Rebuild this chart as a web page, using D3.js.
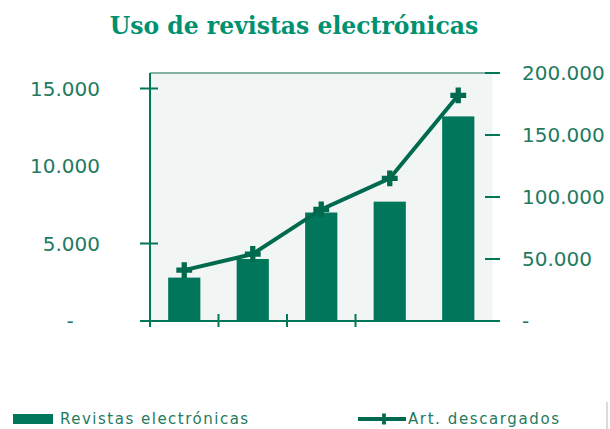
<!DOCTYPE html>
<html>
<head>
<meta charset="utf-8">
<script src="https://cdn.jsdelivr.net/npm/d3@7"></script>
<style>
    body { margin: 0; background: #ffffff; }
    #chart { width: 610px; height: 429px; }
</style>
</head>
<body>
<div id="chart"></div>
<script>
// Values (estimates)
const periods = ["P1", "P2", "P3", "P4", "P5"]
const revistas = [2800, 4000, 7000, 7700, 13200]
const articulos = [41000, 54000, 90000, 115000, 182000]
const leftTicks = [0, 5000, 10000, 15000]
const rightTicks = [0, 50000, 100000, 150000, 200000]

function drawChart() {
    const width = 610
    const height = 429
    const green = "#00775a"
    const lineGreen = "#006a4f"
    const textGreen = "#1f7a5f"

    const plot = { left: 150, right: 492.5, top: 73, bottom: 321 }

    const svg = d3.select("#chart").append("svg")
        .attr("width", width)
        .attr("height", height)

    const x = d3.scaleBand()
        .domain(periods)
        .range([plot.left, plot.right])
        .paddingInner(0.53)
        .paddingOuter(0.265)

    const yLeft = d3.scaleLinear().domain([0, 16000]).range([plot.bottom, plot.top])
    const yRight = d3.scaleLinear().domain([0, 200000]).range([plot.bottom, plot.top])

    const fmt = v => v === 0 ? "-" : d3.format(",")(v).replace(/,/g, ".")

    // title
    svg.append("text")
        .attr("x", 294)
        .attr("y", 34)
        .attr("text-anchor", "middle")
        .style("font-family", "'DejaVu Serif'")
        .style("font-weight", "bold")
        .style("font-size", "23.5px")
        .style("fill", "#009170")
        .text("Uso de revistas electrónicas")

    // plot background
    svg.append("rect")
        .attr("x", plot.left)
        .attr("y", plot.top)
        .attr("width", plot.right - plot.left)
        .attr("height", plot.bottom - plot.top)
        .attr("fill", "#f1f5f3")

    // top border
    svg.append("line")
        .attr("x1", plot.left).attr("x2", plot.right)
        .attr("y1", plot.top).attr("y2", plot.top)
        .attr("stroke", "#5c9a86")
        .attr("stroke-width", 1.5)

    // bars
    svg.selectAll(".bar")
        .data(periods)
        .join("rect")
            .attr("class", "bar")
            .attr("x", d => x(d))
            .attr("width", x.bandwidth())
            .attr("y", (d, i) => yLeft(revistas[i]))
            .attr("height", (d, i) => plot.bottom - yLeft(revistas[i]))
            .attr("fill", green)

    // left axis
    const leftAxis = svg.append("g")
    leftAxis.append("line")
        .attr("x1", plot.left).attr("x2", plot.left)
        .attr("y1", plot.top).attr("y2", plot.bottom + 6)
        .attr("stroke", green).attr("stroke-width", 2)
    leftAxis.selectAll(".ltick")
        .data(leftTicks.filter(d => d !== 10000))
        .join("line")
            .attr("x1", plot.left - 10).attr("x2", plot.left + 8)
            .attr("y1", d => yLeft(d)).attr("y2", d => yLeft(d))
            .attr("stroke", green).attr("stroke-width", 2)
    leftAxis.selectAll(".llabel")
        .data(leftTicks)
        .join("text")
            .attr("x", d => d === 0 ? 70 : 100)
            .attr("y", d => yLeft(d))
            .attr("dy", "0.35em")
            .attr("text-anchor", d => d === 0 ? "middle" : "end")
            .style("font-family", "'DejaVu Sans'")
            .style("font-size", "20px")
            .style("fill", textGreen)
            .text(fmt)

    // bottom axis
    svg.append("line")
        .attr("x1", 140).attr("x2", 500)
        .attr("y1", plot.bottom).attr("y2", plot.bottom)
        .attr("stroke", green).attr("stroke-width", 2)
    svg.selectAll(".xtick")
        .data(periods.slice(0, 4))
        .join("line")
            .attr("x1", d => x(d) - x.step() * x.paddingOuter())
            .attr("x2", d => x(d) - x.step() * x.paddingOuter())
            .attr("y1", plot.bottom - 7).attr("y2", plot.bottom + 6)
            .attr("stroke", green).attr("stroke-width", 2)

    // right axis
    svg.selectAll(".rtick")
        .data(rightTicks)
        .join("line")
            .attr("x1", d => d === 0 ? 480 : 485).attr("x2", 500)
            .attr("y1", d => yRight(d)).attr("y2", d => yRight(d))
            .attr("stroke", green).attr("stroke-width", 2)
    svg.selectAll(".rlabel")
        .data(rightTicks)
        .join("text")
            .attr("x", 522)
            .attr("y", d => yRight(d))
            .attr("dy", "0.35em")
            .style("font-family", "'DejaVu Sans'")
            .style("font-size", "20px")
            .style("fill", textGreen)
            .text(fmt)

    // line series
    const line = d3.line()
        .x((d, i) => x(periods[i]) + x.bandwidth() / 2)
        .y(d => yRight(d))

    svg.append("path")
        .datum(articulos)
        .attr("d", line)
        .attr("fill", "none")
        .attr("stroke", lineGreen)
        .attr("stroke-width", 4)

    const marker = d3.symbol().type(d3.symbolCross).size(140)
    svg.selectAll(".pt")
        .data(articulos)
        .join("path")
            .attr("class", "pt")
            .attr("transform", (d, i) => `translate(${x(periods[i]) + x.bandwidth() / 2},${yRight(d)})`)
            .attr("d", marker)
            .attr("fill", lineGreen)

    // legend
    const legendY = 419
    svg.append("rect")
        .attr("x", 13).attr("y", legendY - 5)
        .attr("width", 40).attr("height", 10)
        .attr("fill", green)
    svg.append("text")
        .attr("x", 60).attr("y", legendY)
        .attr("dy", "0.35em")
        .style("font-family", "'DejaVu Sans'")
        .style("font-size", "15px")
        .style("letter-spacing", "1.5px")
        .style("fill", textGreen)
        .text("Revistas electrónicas")

    svg.append("line")
        .attr("x1", 358).attr("x2", 406)
        .attr("y1", legendY).attr("y2", legendY)
        .attr("stroke", lineGreen).attr("stroke-width", 4)
    svg.append("path")
        .attr("transform", `translate(384,${legendY})`)
        .attr("d", d3.symbol().type(d3.symbolCross).size(70))
        .attr("fill", lineGreen)
    svg.append("text")
        .attr("x", 408).attr("y", legendY)
        .attr("dy", "0.35em")
        .style("font-family", "'DejaVu Sans'")
        .style("font-size", "15px")
        .style("letter-spacing", "1.6px")
        .style("fill", textGreen)
        .text("Art. descargados")

    // edge of the neighbouring frame
    svg.append("line")
        .attr("x1", 607).attr("x2", 607)
        .attr("y1", 402).attr("y2", height)
        .attr("stroke", "#d8dcda").attr("stroke-width", 2)
}

drawChart()
</script>
</body>
</html>
